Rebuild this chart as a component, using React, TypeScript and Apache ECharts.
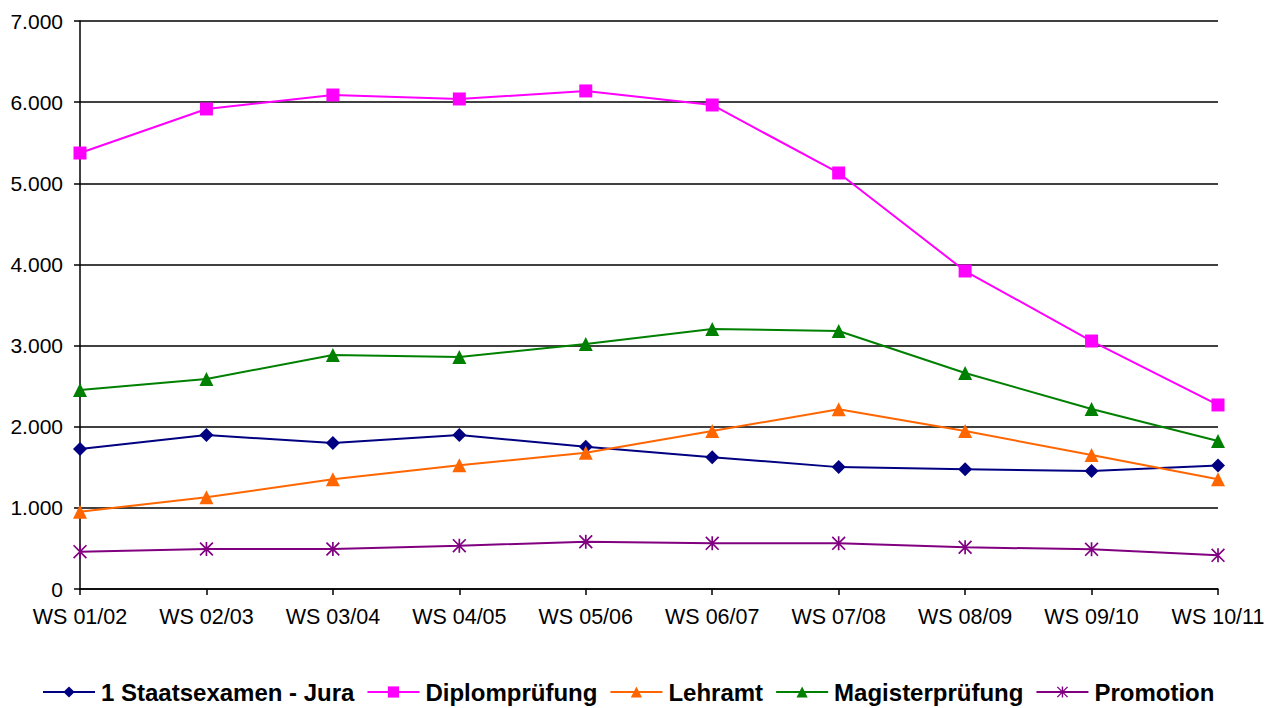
import React, { useEffect, useRef } from "react";
import * as echarts from "echarts";

const categories = ["WS 01/02", "WS 02/03", "WS 03/04", "WS 04/05", "WS 05/06", "WS 06/07", "WS 07/08", "WS 08/09", "WS 09/10", "WS 10/11"];
const jura = [1725, 1898, 1799, 1898, 1752, 1625, 1502, 1477, 1454, 1522];
const diplom = [5373, 5916, 6088, 6039, 6138, 5965, 5127, 3919, 3056, 2268];
const lehramt = [953, 1130, 1352, 1525, 1680, 1947, 2215, 1947, 1651, 1352];
const magister = [2453, 2588, 2884, 2859, 3019, 3204, 3180, 2662, 2218, 1824];
const promotion = [460, 493, 493, 534, 583, 563, 563, 514, 489, 415];
const yTicks = { min: 0, max: 7000, interval: 1000 };

const asterisk =
  "path://M4.4,0 L5.6,0 L5.6,10 L4.4,10 Z M0,0.85 L0.85,0 L10,9.15 L9.15,10 Z M9.15,0 L10,0.85 L0.85,10 L0,9.15 Z";

const FONT = "'Liberation Sans', Arial, sans-serif";

function fmt(v: number): string {
  return String(v).replace(/\B(?=(\d{3})+(?!\d))/g, ".");
}

export default function App() {
  const ref = useRef<HTMLDivElement>(null);
  useEffect(() => {
    if (!ref.current) return;
    const chart = echarts.init(ref.current, undefined, { renderer: "svg" });
    const mk = (name: string, data: number[], color: string, symbol: string, size: number) => ({
      name,
      type: "line",
      data,
      symbol,
      symbolSize: size,
      showAllSymbol: true,
      lineStyle: { color, width: 2 },
      itemStyle: { color, borderWidth: 0 },
      emphasis: { disabled: true },
    });
    chart.setOption({
      animation: false,
      backgroundColor: "#ffffff",
      textStyle: { fontFamily: FONT },
      grid: { left: 80, right: 62, top: 21, bottom: 119, containLabel: false },
      legend: {
        top: 679,
        left: 42,
        padding: 0,
        itemWidth: 52,
        itemHeight: 14,
        itemGap: 12,
        textStyle: { fontFamily: FONT, fontSize: 24, fontWeight: "bold", color: "#000", padding: [0, 0, 0, 1], lineHeight: 26 },
        data: ["1 Staatsexamen - Jura", "Diplomprüfung", "Lehramt", "Magisterprüfung", "Promotion"],
      },
      xAxis: {
        type: "category",
        data: categories,
        boundaryGap: false,
        axisLine: { lineStyle: { color: "#000", width: 1.5 } },
        axisTick: { show: true, length: 6, lineStyle: { color: "#000", width: 1.5 } },
        axisLabel: { color: "#000", fontSize: 21.5, fontFamily: FONT, margin: 17, interval: 0 },
        splitLine: { show: false },
      },
      yAxis: {
        type: "value",
        min: yTicks.min,
        max: yTicks.max,
        interval: yTicks.interval,
        axisLine: { show: true, lineStyle: { color: "#000", width: 1.5 } },
        axisTick: { show: true, length: 6, lineStyle: { color: "#000", width: 1.5 } },
        axisLabel: { color: "#000", fontSize: 21, fontFamily: FONT, margin: 17, formatter: (v: number) => fmt(v) },
        splitLine: { show: true, lineStyle: { color: "#000", width: 1.5 } },
      },
      series: [
        mk("1 Staatsexamen - Jura", jura, "#000080", "diamond", 14),
        mk("Diplomprüfung", diplom, "#FF00FF", "rect", 13),
        mk("Lehramt", lehramt, "#FF6600", "triangle", 14),
        mk("Magisterprüfung", magister, "#008000", "triangle", 14),
        mk("Promotion", promotion, "#800080", asterisk, 14),
      ],
    });
    return () => chart.dispose();
  }, []);
  return <div ref={ref} style={{ position: "absolute", left: 0, top: 0, width: 1280, height: 708 }} />;
}
